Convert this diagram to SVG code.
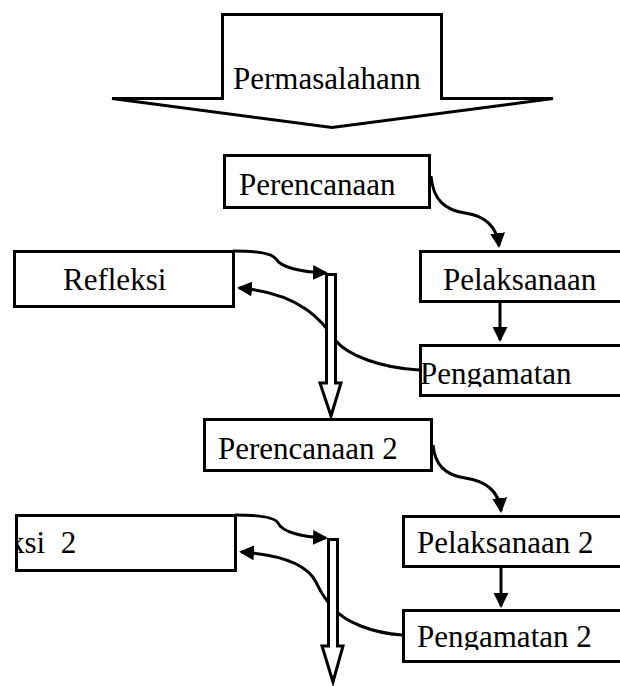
<svg xmlns="http://www.w3.org/2000/svg" width="620" height="686" viewBox="0 0 620 686">
<style>
.box{fill:#fff;stroke:#000;stroke-width:3}
.lbl{font-family:"Liberation Serif","Times New Roman",serif;font-size:31px;fill:#000}
.conn{fill:none;stroke:#000;stroke-width:3}
.shaft{fill:#fff;stroke:#000;stroke-width:3;stroke-miterlimit:10}
</style>
<defs>
<marker id="ah" viewBox="0 0 15 15" refX="13" refY="7.5" markerWidth="15" markerHeight="15" markerUnits="userSpaceOnUse" orient="auto">
<path d="M0,0 L15,7.5 L0,15 Z" fill="#000"/>
</marker>
<clipPath id="clipPeng1"><rect x="418" y="345" width="210" height="42"/></clipPath>
<clipPath id="clipPeng2"><rect x="400" y="611" width="230" height="39"/></clipPath>
<clipPath id="clipRef2"><rect x="16" y="515" width="220" height="56"/></clipPath>
</defs>
<rect width="620" height="686" fill="#fff"/>

<g id="permasalahan">
<path class="shaft" d="M222.5,14.5 H441.5 V98.5 H553 L332,127.5 L112,98.5 H222.5 Z"/>
<text class="lbl" x="233" y="89">Permasalahann</text>
</g>

<g id="perencanaan">
<rect class="box" x="224.5" y="155.5" width="205" height="52"/>
<text class="lbl" x="239" y="195">Perencanaan</text>
</g>

<g id="refleksi">
<rect class="box" x="14.5" y="251.5" width="219" height="55"/>
<text class="lbl" x="63" y="290">Refleksi</text>
</g>

<g id="pelaksanaan">
<rect class="box" x="420.5" y="251.5" width="210" height="50"/>
<text class="lbl" x="443" y="290">Pelaksanaan</text>
</g>

<g id="pengamatan">
<rect class="box" x="420.5" y="345.5" width="210" height="50"/>
<text class="lbl" x="420" y="384" clip-path="url(#clipPeng1)">Pengamatan</text>
</g>

<g id="perencanaan2">
<rect class="box" x="204.5" y="419.5" width="227" height="51"/>
<text class="lbl" x="218" y="459">Perencanaan 2</text>
</g>

<g id="refleksi2">
<rect class="box" x="16.5" y="515.5" width="219" height="55"/>
<text class="lbl" x="9" y="553" clip-path="url(#clipRef2)" xml:space="preserve">ksi  2</text>
</g>

<g id="pelaksanaan2">
<rect class="box" x="403.5" y="516.5" width="230" height="50"/>
<text class="lbl" x="417" y="553">Pelaksanaan 2</text>
</g>

<g id="pengamatan2">
<rect class="box" x="403.5" y="610.5" width="230" height="51"/>
<text class="lbl" x="417" y="647" clip-path="url(#clipPeng2)">Pengamatan 2</text>
</g>

<g id="connectors">
<path class="conn" d="M431,176 C433,200 445,210 465,213 C487,216 497,228 499,246" marker-end="url(#ah)"/>
<path class="conn" d="M500,303 V340" marker-end="url(#ah)"/>
<path class="conn" d="M233,251 C256,251 272,253 276,259 C281,267 300,272 326,273" marker-end="url(#ah)"/>
<path class="conn" d="M419,370 C382,368 348,356 335,340 C324,323 302,293 239,288" marker-end="url(#ah)"/>

<path class="conn" d="M433,445 C435,465 445,475 465,478 C487,481 499,492 501,511" marker-end="url(#ah)"/>
<path class="conn" d="M501,567 V606" marker-end="url(#ah)"/>
<path class="conn" d="M235,515 C258,515 275,517 278,523 C282,532 302,537 326,538" marker-end="url(#ah)"/>
<path class="conn" d="M402,635 C372,633 345,622 333,608 C322,596 320,590 316,582 C308,566 285,555 241,552" marker-end="url(#ah)"/>

<path class="shaft" d="M326.5,274.5 H335.5 V383 H341 L331,416 L320,383 H326.5 Z"/>
<path class="shaft" d="M328.5,539.5 H337.5 V646 H343 L333,682 L322,646 H328.5 Z"/>
</g>
</svg>
